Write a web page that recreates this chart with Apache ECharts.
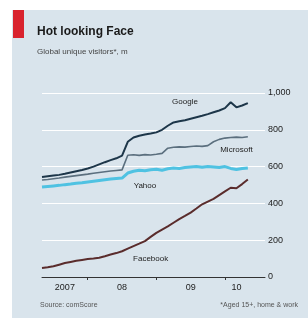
<!DOCTYPE html>
<html><head><meta charset="utf-8">
<script src="https://cdn.jsdelivr.net/npm/echarts@6/dist/echarts.min.js"></script>
<style>html,body{margin:0;padding:0;background:#fff}#c{width:308px;height:318px}</style>
</head><body><div id="c"></div>
<script>
var months = ["2007-05","2007-06","2007-07","2007-08","2007-09","2007-10","2007-11","2007-12",
"2008-01","2008-02","2008-03","2008-04","2008-05","2008-06","2008-07","2008-08","2008-09","2008-10","2008-11","2008-12",
"2009-01","2009-02","2009-03","2009-04","2009-05","2009-06","2009-07","2009-08","2009-09","2009-10","2009-11","2009-12",
"2010-01","2010-02","2010-03","2010-04","2010-05","2010-06","2010-07","2010-08"];
var google = [543,547,551,555,561,568,575,582,590,600,612,624,635,645,660,735,758,768,775,780,786,800,822,840,846,852,860,868,876,885,895,905,918,950,922,932,945];
var microsoft = [527,530,534,538,543,547,551,555,559,564,568,572,576,579,582,662,664,661,665,663,667,672,700,705,707,706,709,712,710,714,735,748,755,758,760,758,762];
var yahoo = [489,492,495,498,502,505,509,512,516,520,524,528,532,535,538,565,575,580,577,583,586,580,588,592,590,595,598,600,596,601,598,595,600,590,584,590,593];
var facebook = [49,53,58,67,76,82,88,93,98,101,105,113,122,130,140,154,168,181,195,218,240,258,275,295,315,332,350,372,395,410,425,445,465,485,482,505,530];
var yTickLabels = {0:"0",200:"200",400:"400",600:"600",800:"800",1000:"1,000"};
var xTickLabels = {4:"2007",14:"08",26:"09",34:"10"};
var yearStarts = [8,20,32];

var chart = echarts.init(document.getElementById('c'), null, {renderer:'canvas'});
var FONT = 'Liberation Sans Narrow, Liberation Sans, Arial, sans-serif';
function lbl(idx, val, text){
  return {coord:[idx,val], symbol:'circle', symbolSize:0,
    label:{show:true, position:'inside', formatter:text, color:'#222', fontSize:8, fontFamily:FONT}};
}
function line(name, data, color, width, lab){
  return {type:'line', name:name, data:data, showSymbol:false, symbol:'none',
    lineStyle:{color:color, width:width}, itemStyle:{color:color}, z:3,
    markPoint:{data:[lab], animation:false}, animation:false};
}
chart.setOption({
  animation:false,
  backgroundColor:'#ffffff',
  graphic:[
    {type:'rect', left:12, top:10, shape:{width:296, height:308}, style:{fill:'#d9e4ec'}, z:-10},
    {type:'rect', left:13, top:10, shape:{width:11, height:28}, style:{fill:'#d9232e'}, z:-5},
    {type:'text', left:37, top:26, style:{text:'Hot looking Face', font:'bold 12px '+FONT, fill:'#1a1a1a'}},
    {type:'text', left:37, top:48, style:{text:'Global unique visitors*, m', font:'8px '+FONT, fill:'#444'}},
    {type:'text', left:40, top:302, style:{text:'Source: comScore', font:'7px '+FONT, fill:'#555'}},
    {type:'text', right:10, top:302, style:{text:'*Aged 15+, home & work', font:'7px '+FONT, fill:'#555', textAlign:'right'}}
  ],
  grid:{left:42, right:43, top:93, bottom:41},
  xAxis:{type:'category', data:months, boundaryGap:false,
    axisLine:{lineStyle:{color:'#333', width:1}},
    axisTick:{show:true, length:3, inside:false, lineStyle:{color:'#333'},
      interval:function(i){return yearStarts.indexOf(i)>=0;}},
    axisLabel:{interval:function(i){return xTickLabels[i]!==undefined;},
      formatter:function(v,i){return xTickLabels[i]||'';}, color:'#222', fontSize:9, fontFamily:FONT, margin:6},
    splitLine:{show:false}},
  yAxis:{type:'value', position:'right', min:0, max:1000, interval:200,
    axisLine:{show:false}, axisTick:{show:false},
    axisLabel:{formatter:function(v){return yTickLabels[v];}, color:'#222', fontSize:9, fontFamily:FONT, margin:3, align:'left'},
    splitLine:{lineStyle:{color:'#ffffff', width:1}}},
  series:[
    line('Yahoo', yahoo, '#4fc2e2', 3, lbl(18, 497, 'Yahoo')),
    line('Microsoft', microsoft, '#5b6f7e', 1.6, lbl(34, 690, 'Microsoft')),
    line('Google', google, '#1d3649', 2, lbl(25, 950, 'Google')),
    line('Facebook', facebook, '#5a2c2c', 2, lbl(19, 98, 'Facebook'))
  ]
});
</script></body></html>
